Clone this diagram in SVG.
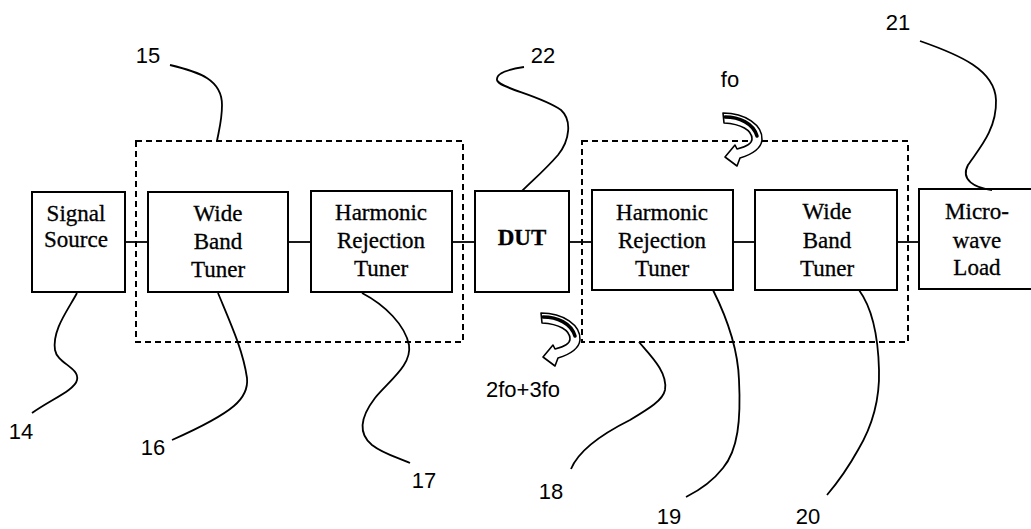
<svg xmlns="http://www.w3.org/2000/svg" width="1031" height="529" viewBox="0 0 1031 529">
<style>
.box{fill:#fff;stroke:#000;stroke-width:2}
.dash{fill:none;stroke:#000;stroke-width:2;stroke-dasharray:6 4}
.wire{stroke:#000;stroke-width:1.8;fill:none}
.lead{stroke:#000;stroke-width:1.8;fill:none}
.bt{font-family:"Liberation Serif","Times New Roman",serif;font-size:23px;text-anchor:middle;fill:#000;stroke:#000;stroke-width:0.3}
.lb{font-family:"Liberation Sans",Arial,sans-serif;font-size:22px;text-anchor:middle;fill:#000}
.arr{fill:#fff;stroke:#000;stroke-width:1.6;stroke-linejoin:round}
</style>
<defs>
<g id="curl">
<path class="arr" d="M0,0 C22,0 40,12 39,27 C38,36 30,41 17,45 L14,53 L2,44 L12,32 L14,36 C22,34 29,31 29,26 C29,17 18,11 1,10 Z"/>
<path d="M2,4 C16,4 30,10 34,23" fill="none" stroke="#000" stroke-width="3.5" stroke-linecap="round"/>
</g>
</defs>
<rect width="1031" height="529" fill="#fff"/>
<g id="groups">
<rect id="g15" class="dash" x="136" y="141" width="327" height="201"/>
<rect id="g18" class="dash" x="582" y="141" width="326" height="201"/>
</g>
<g id="connectors">
<line class="wire" x1="125" y1="242" x2="148" y2="242"/>
<line class="wire" x1="288" y1="242" x2="311" y2="242"/>
<line class="wire" x1="452" y1="242" x2="475" y2="242"/>
<line class="wire" x1="569" y1="242" x2="592" y2="242"/>
<line class="wire" x1="733" y1="242" x2="755" y2="242"/>
<line class="wire" x1="897" y1="242" x2="919" y2="242"/>
</g>
<g id="n14"><rect class="box" x="32" y="192" width="93" height="100"/><text class="bt" x="76" y="221">Signal</text><text class="bt" x="76" y="247">Source</text></g>
<g id="n16"><rect class="box" x="148" y="192" width="140" height="100"/><text class="bt" x="218" y="221">Wide</text><text class="bt" x="218" y="249">Band</text><text class="bt" x="218" y="277">Tuner</text></g>
<g id="n17"><rect class="box" x="311" y="191" width="141" height="101"/><text class="bt" x="381" y="220">Harmonic</text><text class="bt" x="381" y="248">Rejection</text><text class="bt" x="381" y="276">Tuner</text></g>
<g id="n22"><rect class="box" x="475" y="191" width="94" height="101"/><text class="bt" x="522" y="245" font-weight="bold" font-size="22">DUT</text></g>
<g id="n19"><rect class="box" x="592" y="190" width="141" height="100"/><text class="bt" x="662" y="220">Harmonic</text><text class="bt" x="662" y="248">Rejection</text><text class="bt" x="662" y="276">Tuner</text></g>
<g id="n20"><rect class="box" x="755" y="190" width="142" height="100"/><text class="bt" x="827" y="219">Wide</text><text class="bt" x="827" y="248">Band</text><text class="bt" x="827" y="276">Tuner</text></g>
<g id="n21"><rect class="box" x="919" y="189" width="125" height="100"/><text class="bt" x="977" y="219">Micro-</text><text class="bt" x="977" y="248">wave</text><text class="bt" x="977" y="275">Load</text></g>
<g id="leaders">
<path class="lead" d="M170,65 C200,72 222,80 222,105 C222,120 219,130 217,141"/>
<path class="lead" d="M77,293 C68,310 52,330 55,350 C57,363 80,368 77,380 C75,390 50,400 32,413"/>
<path class="lead" d="M218,293 C230,322 243,350 247,378 C249,398 235,412 172,440"/>
<path class="lead" d="M362,293 C385,305 405,325 409,345 C412,365 390,380 375,398 C362,415 356,432 372,445 C385,455 400,458 410,463"/>
<path class="lead" d="M524,67 C510,69 496,73 497,80 C498,88 540,95 561,110 C572,120 570,140 558,155 C545,170 533,180 522,191"/>
<path class="lead" d="M920,41 C960,55 995,70 996,100 C997,130 978,150 968,165 C960,180 975,188 992,190"/>
<path class="lead" d="M639,342 C650,355 668,372 665,390 C663,400 650,408 630,420 C600,435 578,452 571,469"/>
<path class="lead" d="M713,290 C728,320 738,350 739,380 C741,420 738,450 723,468 C712,482 700,490 686,497"/>
<path class="lead" d="M859,290 C870,305 878,330 879,370 C880,405 870,430 858,450 C848,468 838,482 827,495"/>
</g>
<g id="arrows">
<use href="#curl" transform="translate(723,113)"/>
<use href="#curl" transform="translate(541,313)"/>
</g>
<g id="labels">
<text class="lb" x="148" y="63">15</text>
<text class="lb" x="21" y="439">14</text>
<text class="lb" x="153" y="455">16</text>
<text class="lb" x="424" y="488">17</text>
<text class="lb" x="543" y="63">22</text>
<text class="lb" x="898" y="30">21</text>
<text class="lb" x="730" y="87" font-size="23">fo</text>
<text class="lb" x="523" y="397" font-size="23">2fo+3fo</text>
<text class="lb" x="551" y="499">18</text>
<text class="lb" x="669" y="524">19</text>
<text class="lb" x="808" y="524">20</text>
</g>
</svg>
